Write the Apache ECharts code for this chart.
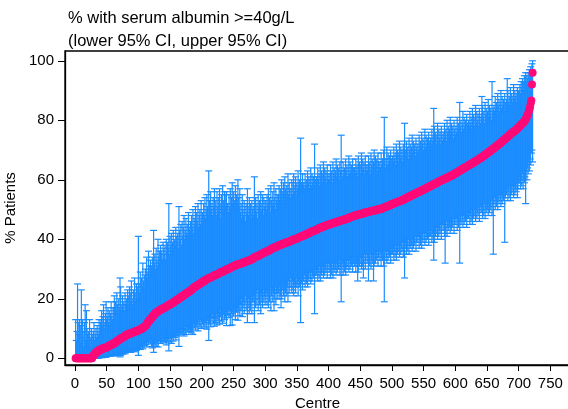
<!DOCTYPE html>
<html>
<head>
<meta charset="utf-8">
<script src="https://cdn.jsdelivr.net/npm/echarts@6/dist/echarts.min.js"></script>
<style>
html, body { margin: 0; padding: 0; background: #fff; }
#chart { width: 568px; height: 409px; }
</style>
</head>
<body>
<div id="chart"></div>
<script>
// % with serum albumin >= 40g/L per centre, sorted, with 95% CI
var pct = [
0,0,0,0,0,0,0,0,0,0,0,0,0,0,0,0,0,0,0,0,
0,0,0,0,0,0,0,0.5,1,1,1.5,1.5,2,2,2,2.5,2.5,2.5,3,3,
3,3,3.3,3.3,3.3,3.5,3.5,3.5,3.6,3.6,3.8,4,4,4.2,4.3,4.5,4.5,4.5,4.8,5,
5,5,5.2,5.3,5.6,5.8,5.9,6,6.1,6.3,6.5,6.7,6.7,6.9,7,7.1,7.1,7.4,7.5,7.7,
7.8,8,8,8.1,8.1,8.3,8.3,8.3,8.5,8.6,8.7,8.8,8.8,9,9,9.1,9.1,9.2,9.3,9.4,
9.5,9.6,9.7,9.8,10,10,10.2,10.4,10.5,10.7,10.9,11.1,11.4,11.8,12.1,12.5,12.5,12.9,13.3,13.3,
13.6,14,14.3,14.3,14.7,15,15.2,15.4,15.4,15.6,15.8,16,16,16.2,16.4,16.4,16.7,16.7,16.8,17,
17,17.1,17.2,17.4,17.5,17.6,17.8,17.9,18,18.2,18.2,18.4,18.5,18.6,18.8,19,19,19.2,19.4,19.5,
19.6,19.8,20,20,20.2,20.4,20.5,20.7,20.8,21,21.1,21.2,21.4,21.6,21.7,21.9,22,22.2,22.2,22.4,
22.6,22.7,23,23,23.3,23.5,23.7,23.8,24,24.1,24.2,24.4,24.5,24.6,24.8,25,25,25.2,25.4,25.5,
25.6,25.8,26,26,26.1,26.3,26.5,26.6,26.7,26.8,26.9,27,27,27.2,27.3,27.4,27.5,27.6,27.8,27.8,
28,28,28.1,28.2,28.3,28.4,28.6,28.7,28.8,28.9,29,29,29.1,29.3,29.4,29.5,29.6,29.7,29.8,30,
30,30,30.2,30.3,30.4,30.5,30.6,30.8,30.9,31,31.1,31.2,31.2,31.3,31.4,31.5,31.5,31.6,31.7,31.8,
31.8,31.9,32,32,32.1,32.2,32.3,32.3,32.4,32.5,32.6,32.7,32.8,32.9,33,33,33.1,33.2,33.3,33.4,
33.6,33.8,34,34,34,34.2,34.3,34.4,34.5,34.5,34.7,34.8,35,35,35.1,35.3,35.4,35.5,35.5,35.7,
35.8,35.9,36,36,36.1,36.3,36.4,36.5,36.6,36.8,36.9,37,37,37.1,37.3,37.4,37.5,37.5,37.6,37.8,
37.9,38,38,38.1,38.2,38.3,38.4,38.5,38.5,38.6,38.7,38.8,38.9,39,39,39,39.1,39.2,39.3,39.4,
39.5,39.6,39.7,39.8,39.9,40,40,40,40.1,40.3,40.4,40.5,40.6,40.7,40.8,40.9,41,41,41.1,41.2,
41.3,41.4,41.5,41.6,41.7,41.8,41.9,42,42,42.1,42.3,42.4,42.5,42.6,42.7,42.8,42.9,43,43,43.1,
43.2,43.3,43.5,43.6,43.7,43.8,43.9,44,44,44.1,44.2,44.3,44.4,44.4,44.5,44.6,44.7,44.8,44.9,45,
45,45,45.1,45.2,45.3,45.3,45.4,45.5,45.5,45.6,45.7,45.8,45.8,45.9,46,46,46.1,46.2,46.2,46.3,
46.4,46.4,46.5,46.6,46.7,46.7,46.8,46.9,47,47,47.1,47.2,47.3,47.3,47.4,47.5,47.6,47.7,47.8,47.9,
48,48,48,48.1,48.1,48.2,48.3,48.3,48.4,48.5,48.5,48.6,48.6,48.7,48.8,48.8,48.9,49,49,49.1,
49.1,49.2,49.2,49.3,49.3,49.4,49.4,49.5,49.5,49.6,49.6,49.7,49.7,49.8,49.8,49.9,50,50,50,50.1,
50.1,50.2,50.2,50.3,50.4,50.5,50.6,50.7,50.8,50.9,51,51,51.1,51.2,51.3,51.4,51.5,51.6,51.7,51.8,
51.9,52,52,52.1,52.2,52.3,52.4,52.5,52.5,52.6,52.7,52.8,52.9,53,53,53.1,53.2,53.3,53.4,53.5,
53.6,53.8,53.9,54,54.1,54.2,54.3,54.5,54.5,54.6,54.8,54.9,55,55,55.1,55.3,55.4,55.5,55.6,55.7,
55.8,55.9,56,56,56.1,56.3,56.4,56.5,56.6,56.7,56.8,56.9,57,57.1,57.3,57.4,57.5,57.6,57.7,57.8,
57.9,58,58.1,58.3,58.4,58.5,58.6,58.7,58.8,58.9,59,59.2,59.3,59.4,59.5,59.6,59.7,59.8,60,60,
60.1,60.2,60.3,60.4,60.5,60.6,60.7,60.8,60.9,61,61.1,61.2,61.3,61.4,61.5,61.6,61.8,61.9,62,62.2,
62.3,62.4,62.5,62.7,62.8,62.9,63,63.2,63.3,63.4,63.6,63.7,63.8,64,64.1,64.2,64.3,64.5,64.6,64.7,
64.9,65,65.1,65.2,65.4,65.5,65.6,65.7,65.9,66,66.1,66.3,66.4,66.5,66.7,66.8,66.9,67,67.2,67.3,
67.4,67.6,67.8,67.9,68.1,68.2,68.4,68.6,68.7,68.9,69,69.2,69.4,69.5,69.7,69.8,70,70.2,70.3,70.5,
70.7,70.8,71,71.2,71.3,71.5,71.7,71.8,72,72.2,72.3,72.5,72.7,72.9,73.1,73.3,73.5,73.6,73.8,74,
74.2,74.4,74.6,74.8,75,75.1,75.3,75.5,75.7,75.9,76,76.2,76.3,76.5,76.6,76.8,77,77.2,77.5,77.7,
77.9,78.1,78.3,78.5,78.8,79,79.2,79.4,79.7,80,80.4,80.8,81.3,81.8,82.4,83,83.8,84.6,85.7,86.7,
92,96
];

var lower95 = [
0,0,0,0,0,0,0,0,0,0,0,0,0,0,0,0,0,0,0,0,
0,0,0,0,0,0,0,0,0,0,0,0,0.1,0.1,0.1,0.1,0.2,0.2,0.3,0.3,
0.3,0.5,0.2,0.4,0.8,0.3,0.6,0.5,0.4,0.6,0.8,1,0.7,0.8,1,1.1,0.8,0.9,1.2,1.1,
1,0.8,1.3,1,1.5,1.1,1.4,1.7,1.2,1.5,0.5,1,2,1.7,1.4,2.1,1.9,2.3,1.5,2.2,
2,2.5,2.2,2.6,3,2.4,2.6,2,2.9,3.2,2.8,2.5,3,2.2,3.3,3,2.7,3.4,3,1,
3.5,4,3,4.5,3.8,4.8,3.2,5,5.4,4.2,4.6,5.6,3.8,5.8,6,4.8,6.4,6.6,5.4,7,
4,3.5,5,2,5.2,4.5,5.8,4,6,6.5,3.8,5.5,6.2,7,5,6,6.8,7.5,5.7,6.6,
6,5.2,7,4.5,6.6,5.8,7.4,2.5,7.8,5.5,6.8,5,8,7.2,5.8,8.5,7,8.8,6.2,7.6,
7.5,8.2,9,4,8.8,9.5,7.9,10,8.6,9.8,8.2,7.5,10.6,9.2,8,10.8,9.5,11,8.8,10.2,
9.8,9,11.2,8.5,10.6,8,11.8,10.2,12,9.5,12.5,10.8,11.5,9.2,13,11.6,10.5,13.2,10,12.4,
11.5,13.2,10.8,12.6,10.2,13.5,12,9.8,12.8,14,6,11.5,13.8,10.6,14.2,12.5,15,11.8,13.6,10.8,
13.5,12,15,11.2,14.2,12.8,15.5,11.5,14,16.5,12.5,15.2,11.8,14.6,17,13,15.8,13.6,11,14.8,
14.5,16.5,13.8,16,11,17.2,15,11.2,16.6,14.2,17.5,15.8,13,18,15.5,17,12.8,16.2,18.5,14.4,
18,16,20,14,17,19,15,18,21,16,19,12,17,20,15,18,16,21,15,19,
19,21,12,20,17,22,18,23,16,20,18,22,15,21,19,17,23,19,21,18,
20,22,18,21,17,23,19,24,16,21,23,19,22,16,20,24,18,22,20,23,
22,20,24,21,17,20,23,25,21,23,19,22,25,21,24,19,26,22,24,27,
24,22,26,23,21,25,24,22,27,24,25,21,26,24,28,12,25,27,23,26,
26,28,24,27,25,29,24,27,26,29,27,25,29,26,28,27,30,15,28,30,
28,30,26,29,27,31,26,29,28,31,29,27,31,28,30,29,32,27,30,32,
29,31,27,30,28,32,27,30,29,32,30,28,32,29,31,30,33,28,31,19,
30,32,28,31,29,33,28,31,30,33,31,29,33,30,32,31,34,29,32,34,
31,33,29,32,31,26,29,32,31,34,32,30,34,31,27,32,35,30,33,35,
32,34,26,33,31,35,30,33,32,35,26,31,35,32,34,33,36,31,34,36,
33,35,31,34,33,36,31,19,33,36,34,32,36,33,35,34,37,32,35,37,
35,37,33,36,34,38,33,36,35,38,36,34,38,35,37,36,39,34,37,27,
37,39,35,38,36,40,35,38,37,40,38,36,40,37,39,38,41,36,39,41,
39,41,37,40,38,42,37,40,39,42,40,38,42,39,41,40,43,38,41,43,
41,43,39,42,40,33,39,42,41,44,42,40,44,41,43,42,45,40,43,45,
43,45,41,32,42,46,41,44,43,46,44,42,46,43,45,44,47,42,45,47,
45,47,43,46,44,48,32,46,45,48,46,44,48,45,47,46,49,44,47,49,
47,49,45,48,46,50,45,48,47,50,48,46,50,47,49,48,51,46,49,51,
49,51,47,50,48,52,47,50,49,52,50,48,52,49,51,50,53,48,51,35,
52,54,50,53,51,55,50,53,52,55,53,51,55,52,54,53,56,39,54,56,
55,57,53,56,54,58,53,56,55,58,56,54,58,55,57,56,59,54,57,59,
59,61,57,60,58,62,57,60,59,61,52,63,60,64,62,66,63,67,65,69,
70,66
];

var upper95 = [
13,6,9,25,12,8,13,5,11,23,7,13,4,9,12,18,6,16,10,8,
9,5,13,7,4,10,6,8,9,12,6,8,10,7,11,9,8,13,10,12,
13,16,11,14,18,12,10,15,19,13,14,17,12,16,11,15,19,14,13,17,
17,21,15,19,16,22,18,15,20,17,27,24,16,18,21,17,19,16,22,18,
20,18,23,21,17,24,19,22,26,20,18,23,21,27,19,22,25,20,24,41,
25,22,29,23,27,24,32,26,23,28,30,25,34,27,29,36,31,28,33,30,
31,34,29,43,32,35,30,37,33,31,40,34,36,32,38,36,35,33,39,37,
35,38,33,40,36,39,37,52,35,41,38,42,36,39,43,37,40,38,44,41,
39,42,37,51,43,40,45,38,46,41,44,48,40,43,47,42,45,41,49,44,
43,46,41,48,44,50,42,47,45,51,43,49,46,52,44,48,50,45,53,47,
49,46,52,48,54,47,50,55,51,48,63,53,49,56,50,52,48,54,51,57,
50,53,48,56,51,54,49,57,52,47,55,50,58,53,49,56,51,55,56,52,
52,49,55,51,57,50,54,59,52,56,51,53,58,50,55,52,60,54,51,57,
49,52,47,55,50,48,53,51,46,52,49,57,51,48,54,50,52,47,53,50,
51,48,61,50,54,49,52,47,55,51,53,49,56,50,52,55,48,54,51,53,
53,50,55,52,57,51,54,49,58,53,51,56,52,59,54,50,57,53,55,52,
55,58,53,57,54,60,56,52,59,55,61,57,54,58,56,62,55,59,57,54,
57,60,55,59,62,56,58,61,55,59,57,63,58,60,56,74,59,57,62,58,
59,57,62,58,60,56,63,59,61,57,60,64,58,62,59,61,57,72,60,58,
61,59,64,60,62,58,65,61,63,59,62,66,60,64,61,63,59,65,62,60,
62,60,65,61,63,59,66,62,64,60,63,67,61,65,62,64,60,66,63,75,
63,61,66,62,64,60,67,63,65,61,64,68,62,66,63,65,61,67,64,62,
64,62,67,63,65,61,68,64,66,62,65,69,63,67,64,66,62,68,65,63,
65,63,68,64,66,62,69,65,67,63,66,70,64,68,65,67,63,69,66,64,
66,64,69,65,67,63,70,81,67,64,67,71,65,69,66,68,64,70,67,65,
68,66,71,67,69,65,72,68,70,66,69,73,67,71,68,70,66,72,69,79,
70,68,73,69,71,67,74,70,72,68,71,75,69,73,70,72,68,74,71,69,
72,70,75,71,73,69,76,72,74,70,73,77,71,75,72,74,70,76,73,71,
74,72,77,73,75,84,78,74,76,72,75,79,73,77,74,76,72,78,75,73,
76,74,79,75,77,73,80,76,78,74,77,81,75,79,76,78,74,80,77,75,
78,76,81,77,79,75,86,78,80,76,79,83,77,81,78,80,76,82,79,77,
80,78,83,79,81,77,84,80,82,78,81,85,79,83,80,82,78,84,81,79,
82,88,85,81,83,79,86,82,84,80,83,87,81,85,82,84,80,93,83,84,
85,83,88,84,86,82,89,85,87,83,86,90,84,88,85,87,83,89,86,84,
87,94,90,86,88,85,91,87,89,86,88,92,87,90,88,89,86,91,88,90,
90,92,89,93,91,94,90,93,95,92,96,93,95,94,96,95,97,96,98,97,
99,100
];

var yTicks = [0, 20, 40, 60, 80, 100];
var xTicks = [0, 50, 100, 150, 200, 250, 300, 350, 400, 450, 500, 550, 600, 650, 700, 750];

var ciColor = '#1a8cff';
var dotColor = '#ff0a78';
var font = '"Liberation Sans", Arial, Helvetica, sans-serif';

var ciData = [];
var dotData = [];
for (var i = 0; i < pct.length; i++) {
	ciData.push([i + 1, lower95[i], upper95[i]]);
	dotData.push([i + 1, pct[i]]);
}

var myChart = echarts.init(document.getElementById('chart'), null, { renderer: 'canvas' });

var option = {
	animation: false,
	backgroundColor: '#fff',
	title: {
		text: '% with serum albumin >=40g/L\n(lower 95% CI, upper 95% CI)',
		left: 68,
		top: 7,
		padding: 0,
		textStyle: { fontFamily: font, fontSize: 16.5, fontWeight: 'normal', color: '#000', lineHeight: 23 }
	},
	grid: {
		left: 65, right: -2, top: 51, bottom: 44,
		outerBoundsMode: 'none',
		containLabel: false,
		show: true, borderColor: '#000', borderWidth: 1.3, backgroundColor: '#fff'
	},
	xAxis: {
		type: 'value',
		min: -15.8, max: 781,
		name: 'Centre',
		nameLocation: 'middle',
		nameGap: 30,
		nameTextStyle: { fontFamily: font, fontSize: 15, color: '#000' },
		axisLine: { show: true, onZero: false, lineStyle: { color: '#000', width: 1.3 } },
		axisTick: { show: true, length: 6, customValues: xTicks, lineStyle: { color: '#000' } },
		axisLabel: { customValues: xTicks, fontFamily: font, fontSize: 15, color: '#000', margin: 11 },
		splitLine: { show: false }
	},
	yAxis: {
		type: 'value',
		min: -2.25, max: 103.3,
		name: '% Patients',
		nameLocation: 'middle',
		nameGap: 40,
		nameTextStyle: { fontFamily: font, fontSize: 15, color: '#000' },
		axisLine: { show: true, onZero: false, lineStyle: { color: '#000', width: 1.3 } },
		axisTick: { show: true, length: 7, customValues: yTicks, lineStyle: { color: '#000' } },
		axisLabel: { customValues: yTicks, fontFamily: font, fontSize: 15, color: '#000', margin: 11 },
		splitLine: { show: false }
	},
	series: [
		{
			type: 'custom',
			data: ciData,
			encode: { x: 0, y: [1, 2] },
			clip: true,
			renderItem: function (params, api) {
				var x = api.value(0);
				var lo = api.coord([x, api.value(1)]);
				var hi = api.coord([x, api.value(2)]);
				var w = 3.5;
				var st = { stroke: ciColor, lineWidth: 1.2 };
				return {
					type: 'group',
					children: [
						{ type: 'line', shape: { x1: lo[0], y1: lo[1], x2: hi[0], y2: hi[1] }, style: st },
						{ type: 'line', shape: { x1: lo[0] - w, y1: lo[1], x2: lo[0] + w, y2: lo[1] }, style: st },
						{ type: 'line', shape: { x1: hi[0] - w, y1: hi[1], x2: hi[0] + w, y2: hi[1] }, style: st }
					]
				};
			}
		},
		{
			type: 'scatter',
			data: dotData,
			symbol: 'circle',
			symbolSize: 8,
			itemStyle: { color: dotColor, opacity: 1 },
			z: 3
		}
	]
};
myChart.setOption(option);
</script>
</body>
</html>
